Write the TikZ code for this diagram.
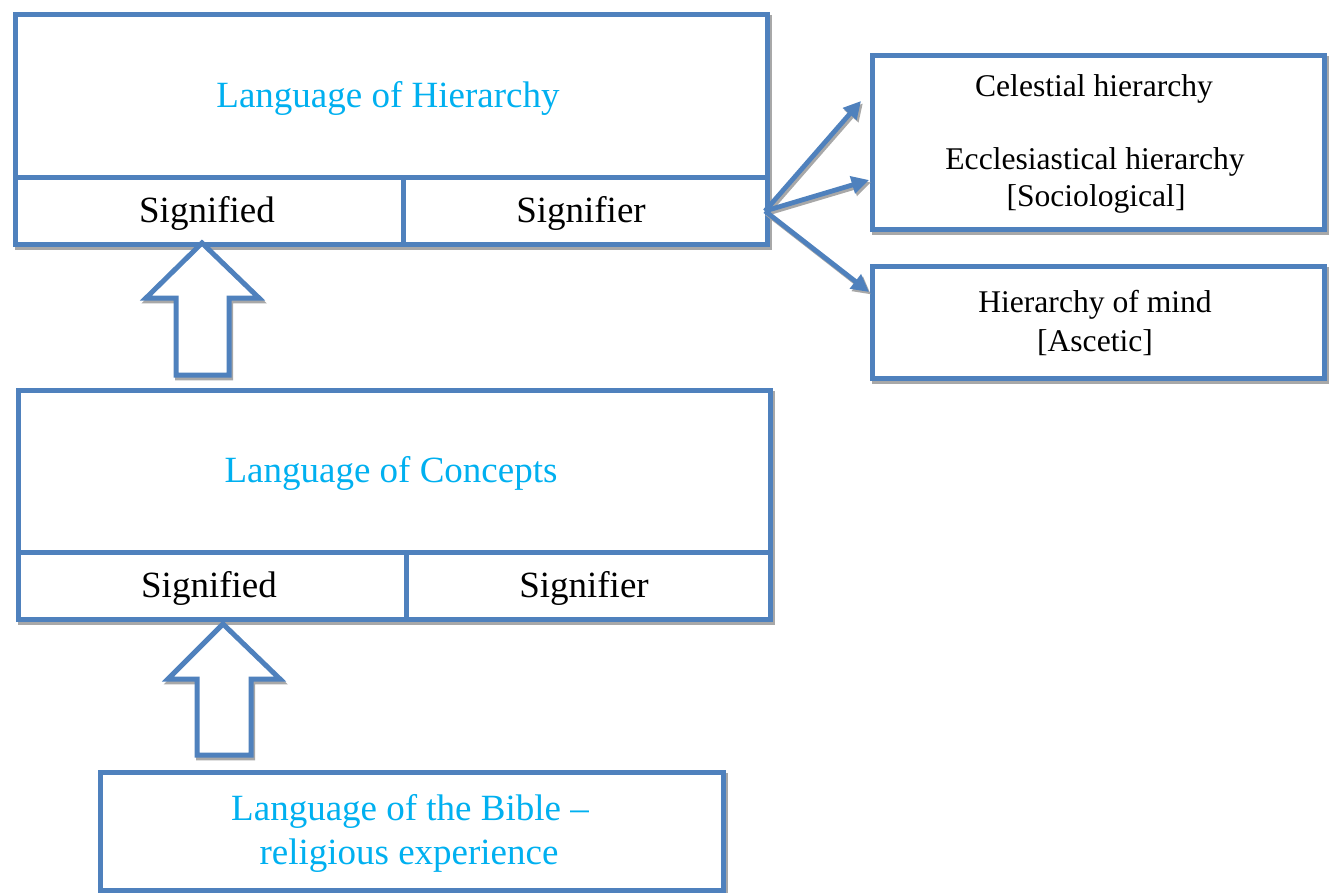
\documentclass[tikz,border=0pt]{standalone}
\usepackage{fontspec}
\setmainfont{Liberation Serif}
\usetikzlibrary{arrows.meta}
\definecolor{bl}{HTML}{4F81BD}
\definecolor{tx}{HTML}{00B0F0}
\definecolor{sh}{gray}{0.66}
\begin{document}
\begin{tikzpicture}[x=0.75pt,y=-0.75pt,
  shad/.style={preaction={draw=sh, line width=3.75pt, transform canvas={xshift=1.6pt,yshift=-2.2pt}}},
  box/.style={shad, draw=bl, line width=3.75pt, fill=white, inner sep=0pt, anchor=north west},
  big/.style={font=\fontsize{27.75pt}{33pt}\selectfont, inner sep=0pt},
  small/.style={font=\fontsize{23.7pt}{28pt}\selectfont, inner sep=0pt},
  title/.style={big, text=tx},
  blockarrow/.style={draw=bl, line width=3.75pt, fill=white, line join=miter,
    preaction={draw=sh, line width=3.75pt, transform canvas={xshift=1.2pt,yshift=-2.2pt}}},
  conn/.style={draw=bl, line width=3.6pt, -{Triangle[length=13pt,width=13pt]},
    preaction={draw=sh, line width=3.6pt, -{Triangle[length=13pt,width=13pt]}, transform canvas={xshift=1.4pt,yshift=-1.8pt}}}
]
\useasboundingbox (0,0) rectangle (1330,892);

% Language of Hierarchy
\node[box, minimum width=752*0.75pt, minimum height=163*0.75pt] (top1) at (12.5,12) {};
\node[box, minimum width=388*0.75pt, minimum height=67*0.75pt] (sig1) at (12.5,175) {};
\node[box, minimum width=364*0.75pt, minimum height=67*0.75pt] (sgr1) at (400.5,175) {};
\node[title] (t1) at (388,98) {Language of Hierarchy};
\node[big] (s1) at (207,213) {Signified};
\node[big] (r1) at (581,213) {Signifier};

% Language of Concepts
\node[box, minimum width=752*0.75pt, minimum height=162*0.75pt] (top2) at (15.5,388) {};
\node[box, minimum width=388*0.75pt, minimum height=67*0.75pt] (sig2) at (15.5,550) {};
\node[box, minimum width=364*0.75pt, minimum height=67*0.75pt] (sgr2) at (403.5,550) {};
\node[title] (t2) at (391,473) {Language of Concepts};
\node[big] (s2) at (209,588) {Signified};
\node[big] (r2) at (584,588) {Signifier};

% Bible
\node[box, minimum width=623*0.75pt, minimum height=118*0.75pt] (bible) at (98,770) {};
\node[title] (b1) at (410,811) {Language of the Bible –};
\node[title] (b2) at (409,856) {religious experience};

% right boxes
\node[box, minimum width=452*0.75pt, minimum height=174*0.75pt] (ra) at (870,53) {};
\node[box, minimum width=452*0.75pt, minimum height=112*0.75pt] (rb) at (870,264) {};
\node[small] (c1) at (1094,89) {Celestial hierarchy};
\node[small] (c2) at (1095,162) {Ecclesiastical hierarchy};
\node[small] (c3) at (1096,199) {[Sociological]};
\node[small] (c4) at (1095,305) {Hierarchy of mind};
\node[small] (c5) at (1095,343) {[Ascetic]};

% block arrows
\draw[blockarrow] (202,243) -- (146,298) -- (176,298) -- (176,375) -- (229,375) -- (229,298) -- (259,298) -- cycle;
\draw[blockarrow] (223,624) -- (168,679) -- (197,679) -- (197,755) -- (251,755) -- (251,679) -- (280,679) -- cycle;

% connectors
\coordinate (j) at (765,211);
\coordinate (ea) at (861,101);
\coordinate (eb) at (869,180);
\coordinate (ec) at (869,292);
\draw[conn] (j) -- (ea);
\draw[conn] (j) -- (eb);
\draw[conn] (j) -- (ec);
\end{tikzpicture}
\end{document}
